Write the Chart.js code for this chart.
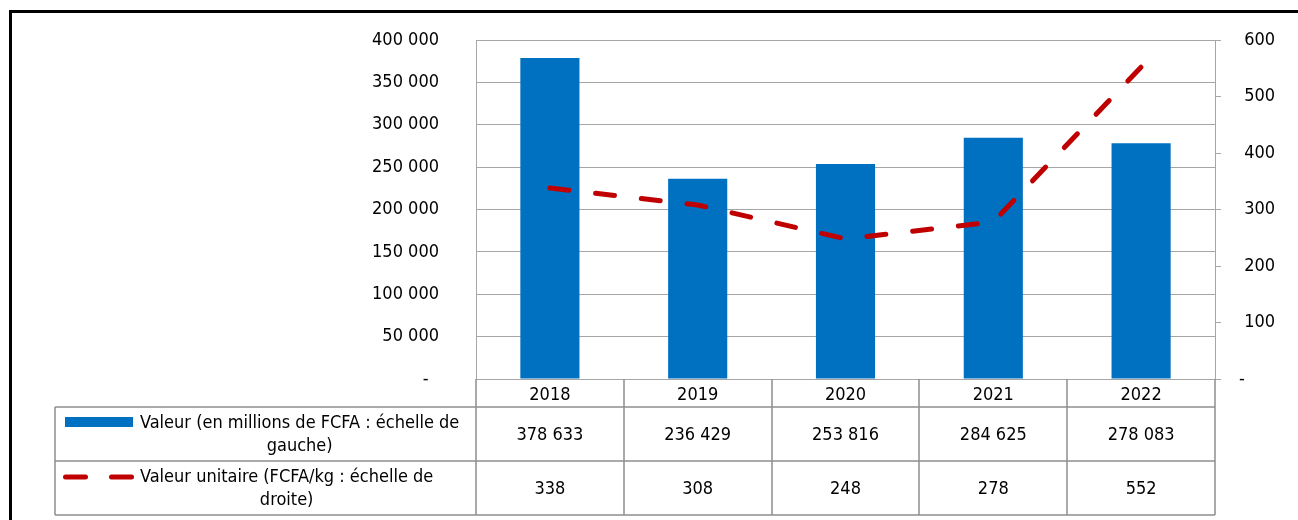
<!DOCTYPE html>
<html>
<head>
<meta charset="utf-8">
<script src="https://cdn.jsdelivr.net/npm/chart.js@4/dist/chart.umd.min.js"></script>
<style>
  html, body { margin: 0; padding: 0; background: #fff; }
  #wrap { width: 1298px; height: 520px; position: relative; }
</style>
</head>
<body>
<div id="wrap"><canvas id="c" width="1298" height="520"></canvas></div>
<script>
const categories = ['2018', '2019', '2020', '2021', '2022'];
const valeurs = [378633, 236429, 253816, 284625, 278083];
const unitaires = [338, 308, 248, 278, 552];
const leftMax = 400000, leftStep = 50000;
const rightMax = 600, rightStep = 100;
const seriesNames = [
  ['Valeur (en millions de FCFA : échelle de', 'gauche)'],
  ['Valeur unitaire (FCFA/kg : échelle de', 'droite)']
];

const FONT = "'DejaVu Sans Condensed', 'DejaVu Sans', sans-serif";
const FSIZE = 18;
const BLUE = '#0070C0';
const RED = '#C00000';
const GRID = '#a6a6a6';
const TABLE = '#8f8f8f';

function fmt(v) {
  if (v === 0) return '-';
  return String(Math.round(v)).replace(/\B(?=(\d{3})+(?!\d))/g, ' ');
}

Chart.defaults.font.family = FONT;
Chart.defaults.font.size = FSIZE;
Chart.defaults.color = '#000';

const tablePlugin = {
  id: 'tablePlugin',
  beforeDraw(chart) {
    const ctx = chart.ctx;
    ctx.save();
    ctx.strokeStyle = '#000';
    ctx.lineWidth = 3;
    ctx.strokeRect(10.5, 11.5, 1400, 700);
    ctx.restore();
  },
  afterDraw(chart) {
    const ctx = chart.ctx;
    const xs = chart.scales.x;
    const area = chart.chartArea;
    const n = categories.length;
    const w = (area.right - area.left) / n;
    const bounds = [];
    for (let i = 0; i <= n; i++) bounds.push(Math.round(xs.getPixelForValue(0) - w / 2 + i * w));
    const top = area.bottom;
    const r1 = top + 28, r2 = r1 + 54, r3 = r2 + 54;
    const tLeft = 55;
    ctx.save();
    ctx.strokeStyle = TABLE;
    ctx.lineWidth = 1.5;
    ctx.beginPath();
    [r1, r2, r3].forEach(y => { ctx.moveTo(tLeft, y); ctx.lineTo(bounds[n], y); });
    ctx.moveTo(tLeft, r1); ctx.lineTo(tLeft, r3);
    bounds.forEach(b => { ctx.moveTo(b, top); ctx.lineTo(b, r3); });
    ctx.stroke();

    // values
    ctx.fillStyle = '#000';
    ctx.font = FSIZE + 'px ' + FONT;
    ctx.textAlign = 'center';
    ctx.textBaseline = 'middle';
    for (let i = 0; i < n; i++) {
      const cx = xs.getPixelForValue(i);
      ctx.fillText(fmt(valeurs[i]), cx, (r1 + r2) / 2 + 1);
      ctx.fillText(fmt(unitaires[i]), cx, (r2 + r3) / 2 + 1);
    }

    // legend keys
    ctx.fillStyle = BLUE;
    ctx.fillRect(65, r1 + 10, 68, 10);
    ctx.strokeStyle = RED;
    ctx.lineWidth = 5;
    ctx.lineCap = 'round';
    ctx.setLineDash([20, 26]);
    ctx.beginPath();
    ctx.moveTo(65.5, r2 + 16);
    ctx.lineTo(133, r2 + 16);
    ctx.stroke();
    ctx.setLineDash([]);

    // legend texts
    ctx.fillStyle = '#000';
    [[r1, r2], [r2, r3]].forEach((rr, k) => {
      const lines = seriesNames[k];
      const widths = lines.map(l => ctx.measureText(l).width);
      const bw = Math.max(...widths);
      const cy = (rr[0] + rr[1]) / 2;
      const x0 = 140;
      lines.forEach((l, j) => {
        ctx.fillText(l, x0 + bw / 2, cy - 11.5 + j * 23 + 1);
      });
    });
    ctx.restore();
  }
};

new Chart(document.getElementById('c'), {
  data: {
    labels: categories,
    datasets: [
      {
        type: 'line',
        label: 'Valeur unitaire (FCFA/kg : échelle de droite)',
        data: unitaires,
        yAxisID: 'y2',
        borderColor: RED,
        backgroundColor: RED,
        borderWidth: 5,
        borderDash: [19, 27],
        borderCapStyle: 'round',
        pointRadius: 0,
        tension: 0,
        order: 0
      },
      {
        type: 'bar',
        label: 'Valeur (en millions de FCFA : échelle de gauche)',
        data: valeurs,
        yAxisID: 'y',
        backgroundColor: BLUE,
        borderWidth: 0,
        barPercentage: 0.4,
        categoryPercentage: 1.0,
        order: 1
      }
    ]
  },
  options: {
    responsive: false,
    animation: false,
    devicePixelRatio: 1,
    layout: { padding: { top: 40, left: 0, right: 0, bottom: 0 } },
    plugins: { legend: { display: false }, tooltip: { enabled: false } },
    scales: {
      x: {
        offset: true,
        grid: { display: true, drawOnChartArea: false, drawTicks: false, offset: true },
        border: { display: true, color: GRID, width: 1 },
        ticks: { padding: 6, color: '#000', maxRotation: 0 },
        afterFit(s) { s.height = 141; }
      },
      y: {
        position: 'left',
        min: 0, max: leftMax,
        grid: { color: GRID, lineWidth: 1, drawTicks: true, tickLength: 36, tickColor: 'rgba(0,0,0,0)' },
        border: { display: true, color: GRID, width: 1 },
        ticks: {
          stepSize: leftStep, padding: 1, color: '#000',
          callback: v => v === 0 ? '-\u00a0\u00a0' : fmt(v)
        },
        afterFit(s) { s.width = 476; }
      },
      y2: {
        position: 'right',
        min: 0, max: rightMax,
        grid: { drawOnChartArea: false, drawTicks: true, tickLength: 6, color: GRID },
        border: { display: true, color: GRID, width: 1 },
        ticks: {
          stepSize: rightStep, padding: 18, color: '#000',
          callback: v => v === 0 ? '-' : '\u00a0' + fmt(v)
        },
        afterFit(s) { s.width = 83; }
      }
    }
  },
  plugins: [tablePlugin]
});
</script>
</body>
</html>
